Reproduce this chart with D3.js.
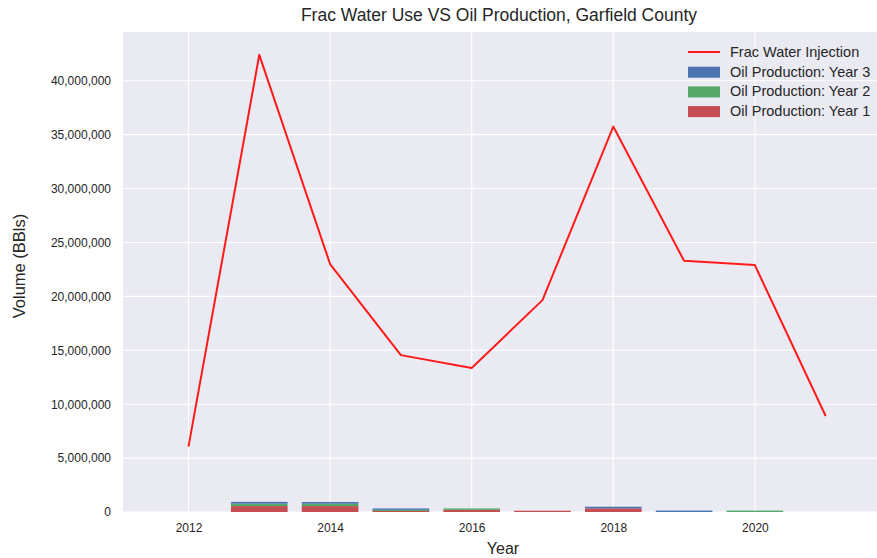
<!DOCTYPE html>
<html>
<head>
<meta charset="utf-8">
<script src="https://cdn.jsdelivr.net/npm/d3@7"></script>
<style>
  body { margin: 0; background: #ffffff; }
  svg { display: block; font-family: "Liberation Sans", Arial, sans-serif; }
</style>
</head>
<body>
<svg id="chart" width="877" height="558"></svg>
<script>
// ---- Data ----
const years = [2012, 2013, 2014, 2015, 2016, 2017, 2018, 2019, 2020, 2021];
const fracWater = [6060000, 42400000, 23000000, 14550000, 13350000, 19650000, 35750000, 23300000, 22900000, 8900000];
const oilYear1 = [0, 550000, 550000, 180000, 200000, 120000, 340000, 0, 0, 0];
const oilYear2 = [0, 220000, 220000, 20000, 130000, 0, 0, 0, 130000, 0];
const oilYear3 = [0, 170000, 160000, 130000, 0, 0, 150000, 130000, 0, 0];
const xTicks = [2012, 2014, 2016, 2018, 2020];
const yTicks = [0, 5000000, 10000000, 15000000, 20000000, 25000000, 30000000, 35000000, 40000000];
const titleText = "Frac Water Use VS Oil Production, Garfield County";
const legendLabels = ["Frac Water Injection", "Oil Production: Year 3", "Oil Production: Year 2", "Oil Production: Year 1"];

// ---- Layout ----
const svg = d3.select("#chart");
const plot = { left: 123, right: 877, top: 32, bottom: 512 };
const colors = { bg: "#EAEAF2", grid: "#ffffff", text: "#262626", y1: "#C44E52", y2: "#55A868", y3: "#4C72B0", line: "#ff1a1a" };

const x = d3.scaleLinear().domain([2011.075, 2021.725]).range([plot.left, plot.right]);
const y = d3.scaleLinear().domain([0, 44520000]).range([plot.bottom, plot.top]);

svg.append("rect").attr("x", plot.left).attr("y", plot.top)
  .attr("width", plot.right - plot.left).attr("height", plot.bottom - plot.top)
  .attr("fill", colors.bg);

// grid
const g = svg.append("g");
g.selectAll(".vg").data(xTicks).join("line")
  .attr("x1", d => x(d)).attr("x2", d => x(d))
  .attr("y1", plot.top).attr("y2", plot.bottom)
  .attr("stroke", colors.grid).attr("stroke-width", 1.1);
g.selectAll(".hg").data(yTicks).join("line")
  .attr("x1", plot.left).attr("x2", plot.right)
  .attr("y1", d => y(d)).attr("y2", d => y(d))
  .attr("stroke", colors.grid).attr("stroke-width", 1.1);

// axes via d3
const fmt = d3.format(",");
const xAxis = d3.axisBottom(x).tickValues(xTicks).tickFormat(d3.format("d")).tickSize(0).tickPadding(11);
const yAxis = d3.axisLeft(y).tickValues(yTicks).tickFormat(fmt).tickSize(0).tickPadding(12);
const gx = svg.append("g").attr("transform", `translate(0,${plot.bottom})`).call(xAxis);
const gy = svg.append("g").attr("transform", `translate(${plot.left},0)`).call(yAxis);
[gx, gy].forEach(a => {
  a.select(".domain").remove();
  a.selectAll("text").attr("fill", colors.text).attr("font-size", 12)
    .attr("font-family", "Liberation Sans, Arial, sans-serif");
});

// stacked bars
const barW = 0.8;
const stackData = years.map((yr, i) => ({ year: yr, y1: oilYear1[i], y2: oilYear2[i], y3: oilYear3[i] }));
const stack = d3.stack().keys(["y1", "y2", "y3"])(stackData);
const keyColor = { y1: colors.y1, y2: colors.y2, y3: colors.y3 };
svg.append("g").selectAll("g").data(stack).join("g")
  .attr("fill", d => keyColor[d.key])
  .selectAll("rect").data(d => d.filter(p => p[1] - p[0] > 0)).join("rect")
  .attr("x", p => x(p.data.year - barW / 2))
  .attr("width", p => x(p.data.year + barW / 2) - x(p.data.year - barW / 2))
  .attr("y", p => y(p[1]))
  .attr("height", p => Math.max(1.2, y(p[0]) - y(p[1])));

// line
const line = d3.line().x((d, i) => x(years[i])).y(d => y(d));
svg.append("path").datum(fracWater)
  .attr("d", line).attr("fill", "none")
  .attr("stroke", colors.line).attr("stroke-width", 2)
  .attr("stroke-linejoin", "round").attr("stroke-linecap", "butt");

// title & labels
svg.append("text").attr("x", (plot.left + plot.right) / 2 - 1).attr("y", 21)
  .attr("text-anchor", "middle").attr("font-size", 17.5).attr("fill", colors.text)
  .text(titleText);
svg.append("text").attr("x", (plot.left + plot.right) / 2 + 3).attr("y", 554)
  .attr("text-anchor", "middle").attr("font-size", 16).attr("fill", colors.text)
  .text("Year");
svg.append("text").attr("transform", `translate(25,${(plot.top + plot.bottom) / 2 - 6}) rotate(-90)`)
  .attr("text-anchor", "middle").attr("font-size", 16.5).attr("fill", colors.text)
  .text("Volume (BBls)");

// legend
const lg = svg.append("g").attr("transform", "translate(688,52)");
const legendColors = [colors.line, colors.y3, colors.y2, colors.y1];
legendLabels.forEach((lab, i) => {
  const row = lg.append("g").attr("transform", `translate(0,${i * 19.7})`);
  if (i === 0) {
    row.append("line").attr("x1", 0).attr("x2", 32).attr("y1", 0).attr("y2", 0)
      .attr("stroke", legendColors[i]).attr("stroke-width", 2);
  } else {
    row.append("rect").attr("x", 0).attr("y", -5).attr("width", 32).attr("height", 11)
      .attr("fill", legendColors[i]);
  }
  row.append("text").attr("x", 42).attr("y", 5).attr("font-size", 14.5)
    .attr("fill", colors.text).text(lab);
});
</script>
</body>
</html>
